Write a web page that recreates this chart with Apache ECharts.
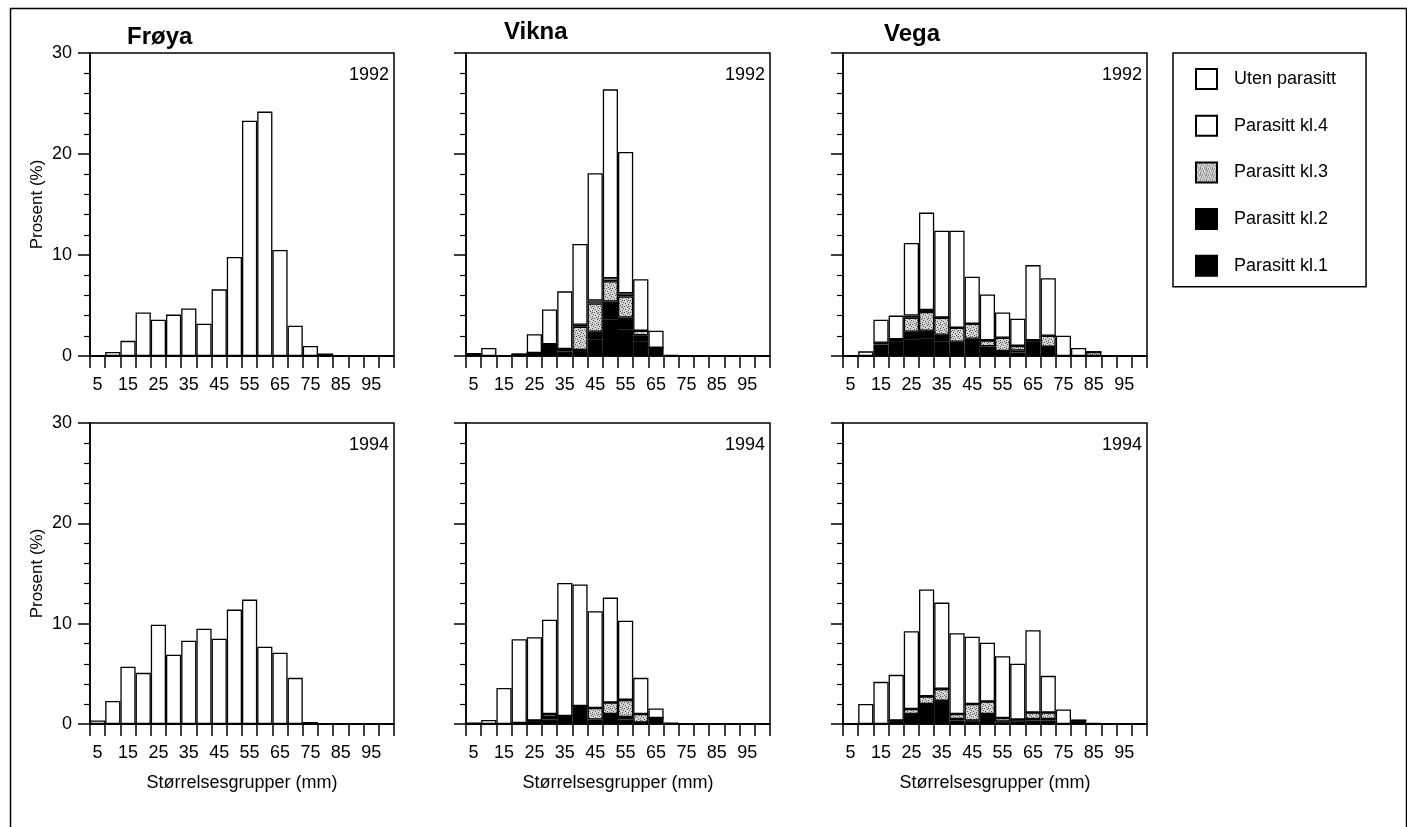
<!DOCTYPE html>
<html>
<head>
<meta charset="utf-8">
<title>Størrelsesgrupper</title>
<script src="https://cdn.jsdelivr.net/npm/echarts@6/dist/echarts.min.js"></script>
<style>
  html, body { margin: 0; padding: 0; background: #fff; }
  #myChart { width: 1407px; height: 827px; }
</style>
</head>
<body>
<div id="myChart"></div>
<script>
// størrelsesgrupper (mm), 5..100
const cats = ['5','10','15','20','25','30','35','40','45','50','55','60','65','70','75','80','85','90','95','100'];
const seriesNames = ['Parasitt kl.1', 'Parasitt kl.2', 'Parasitt kl.3', 'Parasitt kl.4', 'Uten parasitt'];
const legendOrder = ['Uten parasitt', 'Parasitt kl.4', 'Parasitt kl.3', 'Parasitt kl.2', 'Parasitt kl.1'];
const yTicks = [0, 10, 20, 30];

// Frøya har ingen parasitter
const ingen = [0,0,0,0,0,0,0,0,0,0,0,0,0,0,0,0,0,0,0,0];

// Frøya 1992
const froya92Uten = [0, 0.4, 1.5, 4.3, 3.6, 4.1, 4.7, 3.2, 6.6, 9.8, 23.3, 24.2, 10.5, 3.0, 1.0, 0.25, 0.05, 0, 0, 0];
// Frøya 1994
const froya94Uten = [0.35, 2.3, 5.7, 5.1, 9.9, 6.9, 8.3, 9.5, 8.5, 11.4, 12.4, 7.7, 7.1, 4.6, 0.2, 0.05, 0, 0, 0, 0];

// Vikna 1992
const vikna92Kl1  = [0.2, 0, 0, 0.17, 0.3, 0.8, 0.3, 0.4, 1.6, 3.6, 2.6, 1.4, 0.5, 0, 0, 0, 0, 0, 0, 0];
const vikna92Kl2  = [0, 0, 0, 0, 0, 0.36, 0.15, 0.2, 0.8, 1.8, 1.2, 0.65, 0.3, 0, 0, 0, 0, 0, 0, 0];
const vikna92Kl3  = [0, 0, 0, 0, 0, 0, 0.25, 2.3, 2.8, 2.0, 2.1, 0.45, 0, 0, 0, 0, 0, 0, 0, 0];
const vikna92Kl4  = [0, 0, 0, 0, 0, 0, 0, 0.2, 0.3, 0.3, 0.3, 0, 0, 0, 0, 0, 0, 0, 0, 0];
const vikna92Uten = [0, 0.8, 0, 0, 1.85, 3.44, 5.7, 8.0, 12.6, 18.7, 14.0, 5.1, 1.7, 0.1, 0.05, 0.05, 0.05, 0.05, 0.05, 0];

// Vikna 1994
const vikna94Kl1  = [0, 0, 0, 0.1, 0.25, 0.45, 0.5, 1.0, 0.3, 0.6, 0.45, 0.1, 0.4, 0, 0, 0, 0, 0, 0, 0];
const vikna94Kl2  = [0, 0, 0, 0, 0.1, 0.25, 0.3, 0.8, 0.15, 0.4, 0.25, 0.05, 0.2, 0, 0, 0, 0, 0, 0, 0];
const vikna94Kl3  = [0, 0, 0, 0, 0, 0.3, 0, 0, 1.15, 1.15, 1.7, 0.85, 0, 0, 0, 0, 0, 0, 0, 0];
const vikna94Kl4  = [0, 0, 0, 0, 0, 0, 0, 0, 0, 0, 0, 0, 0, 0, 0, 0, 0, 0, 0, 0];
const vikna94Uten = [0.15, 0.4, 3.6, 8.35, 8.3, 9.4, 13.25, 12.1, 9.65, 10.45, 7.9, 3.6, 0.95, 0.15, 0.05, 0.05, 0.05, 0.05, 0.05, 0];

// Vega 1992
const vega92Kl1  = [0, 0, 0.8, 0.9, 1.6, 1.7, 1.4, 0.9, 1.1, 0.6, 0.3, 0.35, 1.0, 0.6, 0, 0, 0, 0, 0, 0];
const vega92Kl2  = [0, 0, 0.35, 0.5, 0.8, 0.8, 0.7, 0.5, 0.6, 0.35, 0.2, 0.2, 0.45, 0.3, 0, 0, 0, 0, 0, 0];
const vega92Kl3  = [0, 0, 0.15, 0.25, 1.4, 1.85, 1.7, 1.4, 1.5, 0.6, 1.3, 0.45, 0.1, 1.1, 0, 0, 0.4, 0, 0, 0];
const vega92Kl4  = [0, 0, 0, 0, 0.2, 0.2, 0, 0, 0, 0, 0, 0, 0, 0, 0, 0, 0, 0, 0, 0];
const vega92Uten = [0, 0.46, 2.3, 2.35, 7.2, 9.65, 8.6, 9.6, 4.65, 4.55, 2.5, 2.7, 7.45, 5.7, 2.0, 0.8, 0, 0, 0, 0];

// Vega 1994
const vega94Kl1  = [0, 0, 0, 0.25, 0.7, 1.4, 1.6, 0.35, 0.25, 0.7, 0.15, 0.1, 0.35, 0.35, 0, 0.25, 0, 0, 0, 0];
const vega94Kl2  = [0, 0, 0, 0.1, 0.3, 0.6, 0.7, 0.15, 0.1, 0.3, 0.1, 0.05, 0.15, 0.15, 0, 0.1, 0, 0, 0, 0];
const vega94Kl3  = [0, 0, 0, 0, 0.5, 0.75, 1.2, 0.5, 1.65, 1.25, 0.35, 0.3, 0.65, 0.65, 0, 0, 0, 0, 0, 0];
const vega94Kl4  = [0, 0, 0, 0, 0, 0, 0, 0, 0, 0, 0, 0, 0, 0, 0, 0, 0, 0, 0, 0];
const vega94Uten = [0, 2.0, 4.2, 4.55, 7.75, 10.65, 8.6, 8.05, 6.7, 5.85, 6.15, 5.55, 8.2, 3.65, 1.45, 0, 0.1, 0, 0, 0];

// panel rekkefølge: rad 1 (1992), rad 2 (1994), kolonne Frøya / Vikna / Vega
const panels = [
  { sted: 'Frøya', aar: '1992', row: 0, col: 0, data: [ingen, ingen, ingen, ingen, froya92Uten] },
  { sted: 'Vikna', aar: '1992', row: 0, col: 1, data: [vikna92Kl1, vikna92Kl2, vikna92Kl3, vikna92Kl4, vikna92Uten] },
  { sted: 'Vega',  aar: '1992', row: 0, col: 2, data: [vega92Kl1, vega92Kl2, vega92Kl3, vega92Kl4, vega92Uten] },
  { sted: 'Frøya', aar: '1994', row: 1, col: 0, data: [ingen, ingen, ingen, ingen, froya94Uten] },
  { sted: 'Vikna', aar: '1994', row: 1, col: 1, data: [vikna94Kl1, vikna94Kl2, vikna94Kl3, vikna94Kl4, vikna94Uten] },
  { sted: 'Vega',  aar: '1994', row: 1, col: 2, data: [vega94Kl1, vega94Kl2, vega94Kl3, vega94Kl4, vega94Uten] }
];

// layout
const colLeft = [90, 466, 843];
const rowTop = [53, 423];
const rowH = [303, 301];
const plotW = 304;
const font = "'Liberation Sans', Arial, Helvetica, sans-serif";

// prikket grått mønster for kl.3
function stipple() {
  const c = document.createElement('canvas');
  c.width = 6; c.height = 6;
  const g = c.getContext('2d');
  g.fillStyle = '#d4d4d4';
  g.fillRect(0, 0, 6, 6);
  g.fillStyle = '#555';
  [[0,0],[3,1],[1,3],[4,4],[5,2],[2,5],[4,0]].forEach(p => g.fillRect(p[0], p[1], 1, 1));
  return c;
}
const fills = ['#000', '#000', { image: stipple(), repeat: 'repeat' }, '#fff', '#fff'];

let grids = [], xAxes = [], yAxes = [], series = [], titles = [], texts = [];
panels.forEach((p, i) => {
  const left = colLeft[p.col], top = rowTop[p.row], h = rowH[p.row];
  grids.push({
    left: left, top: top, width: plotW, height: h,
    show: true, borderColor: '#000', borderWidth: 1.5, backgroundColor: 'transparent'
  });
  xAxes.push({
    gridIndex: i, type: 'category', data: cats, boundaryGap: true,
    axisLine: { lineStyle: { color: '#000', width: 1.5 } },
    axisTick: { show: true, interval: 0, length: 12, lineStyle: { color: '#000', width: 1.5 } },
    axisLabel: { interval: 1, margin: 20, fontSize: 18, color: '#000', fontFamily: font },
    splitLine: { show: false },
    name: p.row === 1 ? 'Størrelsesgrupper (mm)' : '',
    nameLocation: 'middle', nameGap: 50,
    nameTextStyle: { fontSize: 18, color: '#000', fontFamily: font }
  });
  yAxes.push({
    gridIndex: i, type: 'value', min: 0, max: yTicks[yTicks.length - 1], interval: 10,
    axisLine: { show: true, lineStyle: { color: '#000', width: 1.5 } },
    axisTick: { show: true, length: 12, lineStyle: { color: '#000', width: 1.5 } },
    minorTick: { show: true, splitNumber: 5, length: 6, lineStyle: { color: '#000', width: 1.2 } },
    splitLine: { show: false },
    axisLabel: { show: p.col === 0, margin: 18, fontSize: 18, color: '#000', fontFamily: font },
    name: p.col === 0 ? 'Prosent (%)' : '',
    nameLocation: 'middle', nameGap: 44,
    nameTextStyle: { fontSize: 17, color: '#000', fontFamily: font }
  });
  seriesNames.forEach((navn, k) => {
    series.push({
      name: navn, type: 'bar', xAxisIndex: i, yAxisIndex: i, stack: 'p' + i,
      barCategoryGap: 0, data: p.data[k], animation: false,
      itemStyle: { color: fills[k], borderColor: '#000', borderWidth: 1.3 }
    });
  });
  texts.push({
    type: 'text', right: 1407 - (left + plotW - 5), top: top + 13,
    style: { text: p.aar, fill: '#000', font: '18px ' + font }
  });
});

// stedsnavn over kolonnene
titles = [
  { text: 'Frøya', left: 127, top: 25 },
  { text: 'Vikna', left: 504, top: 20 },
  { text: 'Vega', left: 884, top: 22 }
].map(t => Object.assign(t, { padding: 0, textStyle: { fontSize: 24, fontWeight: 'bold', color: '#000', fontFamily: font } }));

const myChart = echarts.init(document.getElementById('myChart'), null, { renderer: 'canvas' });
myChart.setOption({
  backgroundColor: '#fff',
  textStyle: { fontFamily: font },
  animation: false,
  title: titles,
  legend: {
    data: legendOrder, orient: 'vertical', left: 1173, top: 53, icon: 'rect',
    padding: [15, 30, 10, 22], itemGap: 24.7, itemWidth: 21, itemHeight: 20,
    borderColor: '#000', borderWidth: 1.5, selectedMode: false,
    textStyle: { fontSize: 18, color: '#000', fontFamily: font, padding: [0, 0, 0, 12] }
  },
  grid: grids,
  xAxis: xAxes,
  yAxis: yAxes,
  series: series,
  graphic: texts.concat([{
    type: 'rect', left: 8, top: 6, silent: true,
    shape: { width: 1396, height: 900 },
    style: { fill: 'none', stroke: '#000', lineWidth: 1.5 }
  }])
});
</script>
</body>
</html>
